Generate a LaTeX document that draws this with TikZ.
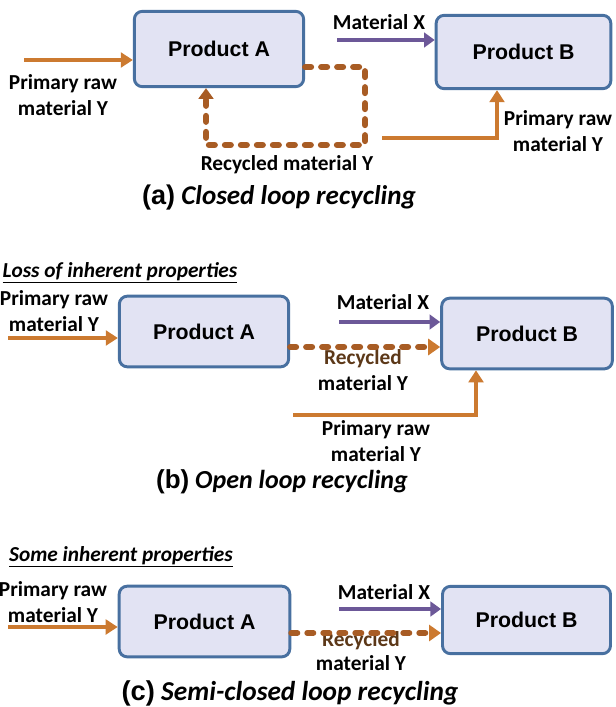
\documentclass[tikz,border=0pt]{standalone}
\usepackage{fontspec}
\setmainfont{Carlito}
\newfontfamily\arialfont{Liberation Sans}
\usetikzlibrary{positioning,arrows.meta,calc}
\definecolor{boxFill}{RGB}{226,227,243}
\definecolor{boxLine}{RGB}{72,112,160}
\definecolor{feedLine}{RGB}{204,122,48}
\definecolor{matLine}{RGB}{108,88,152}
\definecolor{recLine}{RGB}{168,92,36}
\definecolor{recText}{RGB}{92,56,24}
\tikzset{
  prod/.style={rectangle, rounded corners=6pt, draw=boxLine, line width=2.2pt, fill=boxFill,
               minimum width=127pt, minimum height=53pt, font=\arialfont\bfseries\fontsize{16}{19}\selectfont},
  lbl/.style={align=center, inner sep=0pt, font=\bfseries\fontsize{16}{19}\selectfont},
  note/.style={inner sep=0pt, font=\bfseries\itshape\fontsize{16}{19}\selectfont},
  capt/.style={inner sep=0pt, font=\fontsize{#1}{22}\selectfont},
  feed/.style={-{Triangle[length=9pt,width=11pt]}, draw=feedLine, line width=3.6pt},
  matx/.style={-{Triangle[length=8pt,width=11pt]}, draw=matLine, line width=3.6pt},
  recyc/.style={draw=recLine, line width=4.5pt, line cap=round, dash pattern=on 4.5pt off 7.5pt},
}

\begin{document}
\begin{tikzpicture}[x=0.75pt, y=-0.75pt]
  \useasboundingbox (0,0) rectangle (615,707);
  % (a) closed loop
  \node[prod, minimum height=56.5pt] (pa) at (219,49) {Product A};
  \node[prod, minimum width=131pt, minimum height=55pt] (pb) at (523.5,52) {Product B};
  \node[lbl] (rawa) at (63,95) {Primary raw\\material Y};
  \node[lbl] (mxa) at (379,22) {Material X};
  \node[lbl] (reca) at (287,165) {Recycled material Y};
  \node[lbl] (rawb) at (558,131) {Primary raw\\material Y};
  \node[capt=20.3] (capa) at (279,197) {{\arialfont\bfseries (a)} {\bfseries\itshape Closed loop recycling}};
  \coordinate (ina) at (24,60);
  \coordinate (mxsa) at (337,40);
  \coordinate (loopa) at (365,145);
  \coordinate (fbka) at (382,138);
  \draw[feed] (ina) -- (ina -| pa.west);
  \draw[matx] (mxsa) -- (mxsa -| pb.west);
  \draw[recyc, -{Triangle[length=8pt,width=11pt]}] (pa.east |- 0,67) -- (loopa |- 0,67) -- (loopa) -- (206,145) -- (206,0 |- pa.south);
  \draw[feed] (fbka) -| (497,0 |- pb.south);

  % (b) open loop
  \node[note] (lossb) at (120,273) {\underline{Loss of inherent properties}};
  \node[prod] (pa2) at (204,331.5) {Product A};
  \node[prod, minimum width=128pt] (pb2) at (527,333.5) {Product B};
  \node[lbl] (raw2) at (54,311) {Primary raw\\material Y};
  \node[lbl] (mx2) at (383,302) {Material X};
  \node[lbl] (rec2) at (363,370) {{\color{recText}Recycled}\\material Y};
  \node[lbl] (raw2b) at (376,441) {Primary raw\\material Y};
  \node[capt=19.5] (cap2) at (282,482) {{\arialfont\bfseries (b)} {\bfseries\itshape Open loop recycling}};
  \coordinate (in2) at (8,338);
  \coordinate (mxs2) at (339,322);
  \coordinate (fbk2) at (293,415);
  \draw[feed] (in2) -- (in2 -| pa2.west);
  \draw[matx] (mxs2) -- (mxs2 -| pb2.west);
  \draw[recyc, -{Triangle[length=9pt,width=12pt,color=feedLine]}] (pa2.east |- 0,347) -- (pb2.west |- 0,347);
  \draw[feed] (fbk2) -| (476,0 |- pb2.south);

  % (c) semi-closed loop
  \node[note] (somec) at (121,557) {\underline{Some inherent properties}};
  \node[prod, minimum width=128pt] (pa3) at (204.5,621.5) {Product A};
  \node[prod, minimum width=126pt, minimum height=50.5pt] (pb3) at (526.5,620) {Product B};
  \node[lbl] (raw3) at (53,602) {Primary raw\\material Y};
  \node[lbl] (mx3) at (384,592) {Material X};
  \node[lbl, font=\bfseries\fontsize{16}{18}\selectfont] (rec3) at (361,651) {{\color{recText}Recycled}\\material Y};
  \node[capt=20.5] (cap3) at (290,693) {{\arialfont\bfseries (c)} {\bfseries\itshape Semi-closed loop recycling}};
  \coordinate (in3) at (8,627);
  \coordinate (mxs3) at (339,609);
  \draw[feed] (in3) -- (in3 -| pa3.west);
  \draw[matx] (mxs3) -- (mxs3 -| pb3.west);
  \draw[recyc, -{Triangle[length=9pt,width=12pt,color=feedLine]}] (pa3.east |- 0,633) -- (pb3.west |- 0,633);
\end{tikzpicture}
\end{document}
